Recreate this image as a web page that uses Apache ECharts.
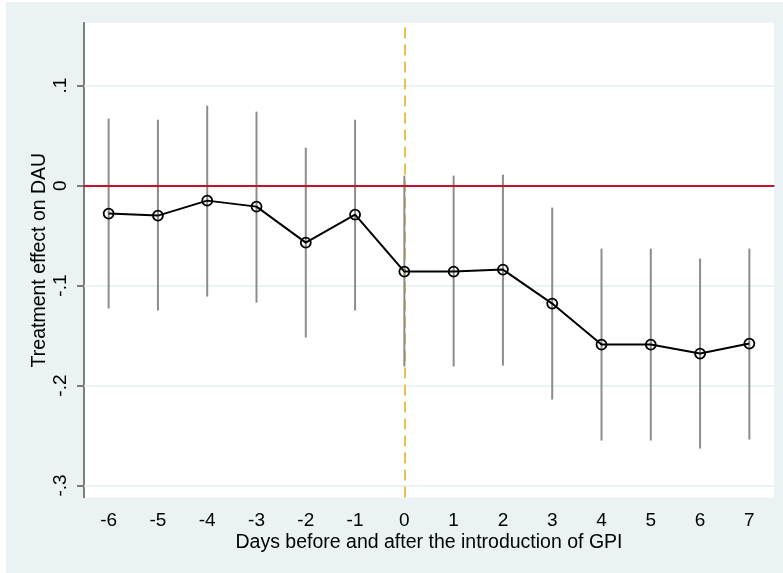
<!DOCTYPE html>
<html>
<head>
<meta charset="UTF-8">
<title>Treatment effect on DAU</title>
<script src="https://cdn.jsdelivr.net/npm/echarts@6/dist/echarts.min.js"></script>
<style>
  body { margin: 0; background: #fff; }
  #chart { position: absolute; left: 6px; top: 2px; width: 777px; height: 571px; }
</style>
</head>
<body>
<div id="chart"></div>
<script type="text/javascript">
// days relative to introduction of GPI
var days = ['-6', '-5', '-4', '-3', '-2', '-1', '0', '1', '2', '3', '4', '5', '6', '7'];
// point estimates
var coef = [-0.028, -0.030, -0.015, -0.021, -0.057, -0.029, -0.086, -0.086, -0.084, -0.118, -0.159, -0.159, -0.168, -0.158];
// 95% CI bounds
var ciLow = [-0.123, -0.125, -0.111, -0.117, -0.152, -0.125, -0.181, -0.181, -0.180, -0.214, -0.255, -0.255, -0.263, -0.254];
var ciHigh = [0.067, 0.066, 0.080, 0.074, 0.038, 0.066, 0.010, 0.010, 0.011, -0.022, -0.063, -0.063, -0.073, -0.063];
var yTicks = [-0.3, -0.2, -0.1, 0, 0.1];
var eventDay = '0';

var chart = echarts.init(document.getElementById('chart'));

function fmtY(v) {
  if (Math.abs(v) < 1e-9) return '0';
  return String(+v.toFixed(1)).replace('0.', '.');
}

var font = 'Liberation Sans, Arial, sans-serif';

chart.setOption({
  backgroundColor: '#eaf2f3',
  animation: false,
  grid: {
    left: 78, right: 9, top: 20.7, bottom: 75.5,
    show: true, backgroundColor: '#ffffff', borderWidth: 0
  },
  xAxis: {
    type: 'category',
    data: days,
    boundaryGap: true,
    name: 'Days before and after the introduction of GPI',
    nameLocation: 'middle',
    nameGap: 35,
    nameMoveOverlap: false,
    nameTextStyle: { color: '#000', fontSize: 19.5, fontFamily: font },
    axisLine: { lineStyle: { color: '#555', width: 1.5 } },
    axisTick: { alignWithLabel: true, length: 7, lineStyle: { color: '#555', width: 1.5 } },
    axisLabel: { color: '#000', fontSize: 19, fontFamily: font, margin: 14 },
    splitLine: { show: false }
  },
  yAxis: {
    type: 'value',
    min: -0.312,
    max: 0.163,
    name: 'Treatment effect on DAU',
    nameLocation: 'middle',
    nameGap: 34,
    nameMoveOverlap: false,
    nameTextStyle: { color: '#000', fontSize: 19.5, fontFamily: font },
    axisLine: { show: true, lineStyle: { color: '#555', width: 1.5 } },
    axisTick: { show: true, length: 7, customValues: yTicks, lineStyle: { color: '#555', width: 1.5 } },
    axisLabel: {
      rotate: 90, color: '#000', fontSize: 19, fontFamily: font, margin: 14,
      customValues: yTicks, formatter: fmtY
    },
    splitLine: { show: false }
  },
  series: [
    {
      // grid lines and event line, underneath
      type: 'line',
      data: [],
      silent: true,
      z: 1,
      markLine: {
        silent: true,
        z: 1,
        symbol: 'none',
        label: { show: false },
        animation: false,
        data: yTicks.filter(function (v) { return v !== 0; }).map(function (v) {
          return { yAxis: v, lineStyle: { color: '#e6eff1', width: 1.5, type: 'solid' } };
        }).concat([
          { xAxis: eventDay, lineStyle: { color: '#e8c24a', width: 2, type: [11, 6] } }
        ])
      }
    },
    {
      type: 'custom',
      silent: true,
      data: days.map(function (d, i) { return [i, ciLow[i], ciHigh[i]]; }),
      renderItem: function (params, api) {
        var a = api.coord([api.value(0), api.value(1)]);
        var b = api.coord([api.value(0), api.value(2)]);
        return {
          type: 'line',
          shape: { x1: a[0], y1: a[1], x2: b[0], y2: b[1] },
          style: { stroke: '#8c8c8c', lineWidth: 2 }
        };
      },
      z: 3
    },
    {
      // zero line
      type: 'line',
      data: [],
      silent: true,
      z: 4,
      markLine: {
        silent: true,
        z: 4,
        symbol: 'none',
        label: { show: false },
        animation: false,
        data: [{ yAxis: 0, lineStyle: { color: '#c8102e', width: 2, type: 'solid' } }]
      }
    },
    {
      type: 'line',
      data: coef,
      symbol: 'circle',
      symbolSize: 10,
      lineStyle: { color: '#000', width: 2 },
      itemStyle: { color: 'rgba(0,0,0,0)', borderColor: '#000', borderWidth: 1.8 },
      z: 5
    }
  ]
});
</script>
</body>
</html>
